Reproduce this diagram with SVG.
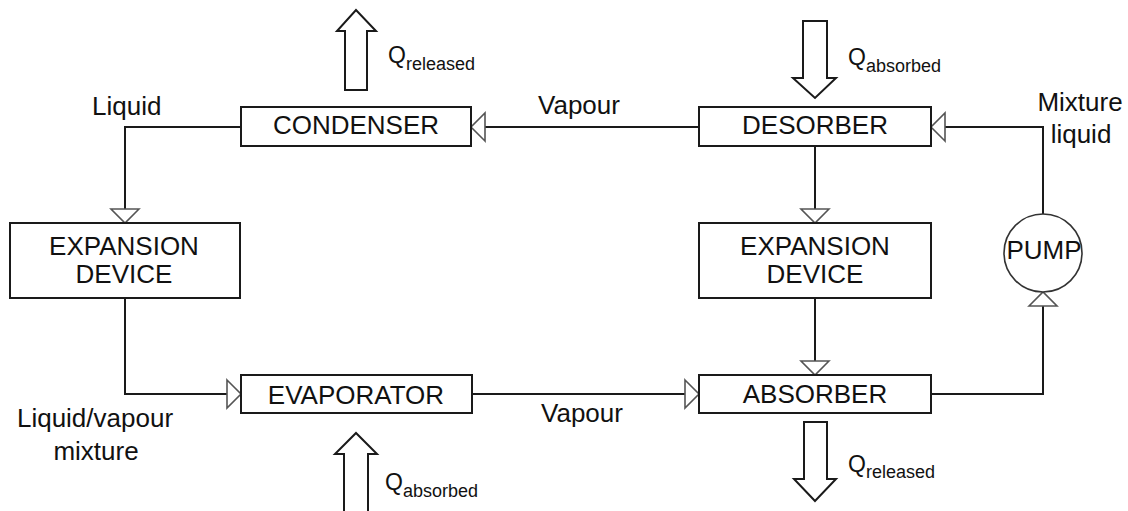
<svg xmlns="http://www.w3.org/2000/svg" width="1128" height="511" viewBox="0 0 1128 511">
  <style>
    .box { fill: #fff; stroke: #1a1a1a; stroke-width: 2; }
    .lbl { font-family: "Liberation Sans", Arial, sans-serif; font-size: 26px; fill: #111; }
    .mid { text-anchor: middle; }
    .wire { fill: none; stroke: #1a1a1a; stroke-width: 2; marker-end: url(#open); }
    .heat { fill: #fff; stroke: #1a1a1a; stroke-width: 2; stroke-linejoin: miter; }
    .q { font-family: "Liberation Sans", Arial, sans-serif; font-size: 23px; fill: #111; }
    .sub { font-size: 18px; }
  </style>
  <defs>
    <marker id="open" markerUnits="userSpaceOnUse" viewBox="-2 -2 18 32" markerWidth="18" markerHeight="32" refX="14" refY="14" orient="auto">
      <path d="M0,0 L14,14 L0,28 Z" fill="#fff" stroke="#555" stroke-width="1.6"/>
    </marker>
  </defs>

  <rect width="1128" height="511" fill="#fff"/>

  <!-- flow lines -->
  <g id="connectors">
    <path class="wire" d="M699,127 L471,127"/>
    <path class="wire" d="M241,127 L125,127 L125,223"/>
    <path class="wire" d="M125,298 L125,394 L241,394"/>
    <path class="wire" d="M472,394 L699,394"/>
    <path class="wire" d="M815,146 L815,223"/>
    <path class="wire" d="M815,298 L815,375"/>
    <path class="wire" d="M931,394 L1043,394 L1043,292"/>
    <path class="wire" d="M1043,214 L1043,127 L931,127"/>
  </g>

  <g id="condenser">
    <rect class="box" x="241" y="107" width="230" height="39"/>
    <text class="lbl mid" x="356" y="134">CONDENSER</text>
  </g>

  <g id="desorber">
    <rect class="box" x="699" y="107" width="232" height="39"/>
    <text class="lbl mid" x="815" y="134">DESORBER</text>
  </g>

  <g id="expansion-left">
    <rect class="box" x="10" y="223" width="230" height="75"/>
    <text class="lbl mid" x="124" y="255">EXPANSION</text>
    <text class="lbl mid" x="124" y="283">DEVICE</text>
  </g>

  <g id="expansion-right">
    <rect class="box" x="699" y="223" width="232" height="75"/>
    <text class="lbl mid" x="815" y="255">EXPANSION</text>
    <text class="lbl mid" x="815" y="283">DEVICE</text>
  </g>

  <g id="evaporator">
    <rect class="box" x="241" y="375" width="231" height="38"/>
    <text class="lbl mid" x="356" y="404">EVAPORATOR</text>
  </g>

  <g id="absorber">
    <rect class="box" x="699" y="375" width="232" height="38"/>
    <text class="lbl mid" x="815" y="403">ABSORBER</text>
  </g>

  <g id="pump">
    <circle cx="1043" cy="253" r="39" fill="#fff" stroke="#333" stroke-width="1.6"/>
    <text class="lbl mid" x="1044" y="259">PUMP</text>
  </g>

  <!-- heat flows -->
  <g id="heat-condenser">
    <polygon class="heat" points="345,90 345,31 337,31 356,10 376,31 367,31 367,90"/>
    <text class="q" x="388" y="63">Q<tspan class="sub" dy="7">released</tspan></text>
  </g>

  <g id="heat-desorber">
    <polygon class="heat" points="803,21 827,21 827,78 836,78 815,98 793,78 803,78"/>
    <text class="q" x="848" y="65">Q<tspan class="sub" dy="7">absorbed</tspan></text>
  </g>

  <g id="heat-evaporator">
    <polygon class="heat" points="344,515 344,454 335,454 356,433 377,454 368,454 368,515"/>
    <text class="q" x="385" y="490">Q<tspan class="sub" dy="7">absorbed</tspan></text>
  </g>

  <g id="heat-absorber">
    <polygon class="heat" points="804,422 827,422 827,479 836,479 815,501 794,479 804,479"/>
    <text class="q" x="848" y="472">Q<tspan class="sub" dy="6">released</tspan></text>
  </g>

  <!-- stream labels -->
  <g id="labels">
    <text class="lbl" x="92" y="115">Liquid</text>
    <text class="lbl mid" x="579" y="114">Vapour</text>
    <text class="lbl mid" x="1080" y="111">Mixture</text>
    <text class="lbl mid" x="1081" y="143">liquid</text>
    <text class="lbl mid" x="95" y="427">Liquid/vapour</text>
    <text class="lbl mid" x="96" y="460">mixture</text>
    <text class="lbl mid" x="582" y="422">Vapour</text>
  </g>
</svg>
